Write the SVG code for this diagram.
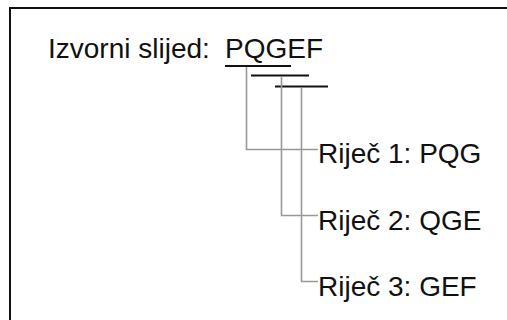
<svg xmlns="http://www.w3.org/2000/svg" width="507" height="320" viewBox="0 0 507 320">
<style>
.t{font-family:"Liberation Sans",Arial,sans-serif;font-size:28px;fill:#111}
.u{stroke:#111;stroke-width:2;fill:none}
.c{stroke:#999;stroke-width:1.6;fill:none}
</style>
<rect x="0" y="0" width="507" height="320" fill="#fff"/>
<rect x="10" y="8" width="510" height="330" fill="none" stroke="#111" stroke-width="2"/>
<g id="source">
<text class="t" x="48" y="58">Izvorni slijed:</text>
<text class="t" x="225" y="58">PQGEF</text>
</g>
<g id="underlines">
<line class="u" x1="225" y1="66" x2="291" y2="66"/>
<line class="u" x1="251" y1="75.5" x2="309" y2="75.5"/>
<line class="u" x1="275" y1="86.5" x2="328" y2="86.5"/>
</g>
<g id="connectors">
<polyline class="c" points="246.5,67 246.5,149.5 318,149.5"/>
<polyline class="c" points="281.5,76.5 281.5,215.5 318,215.5"/>
<polyline class="c" points="301.5,87.5 301.5,281.5 318,281.5"/>
</g>
<g id="word1"><text class="t" x="318" y="163">Riječ 1: PQG</text></g>
<g id="word2"><text class="t" x="318" y="230">Riječ 2: QGE</text></g>
<g id="word3"><text class="t" x="318" y="296">Riječ 3: GEF</text></g>
</svg>
